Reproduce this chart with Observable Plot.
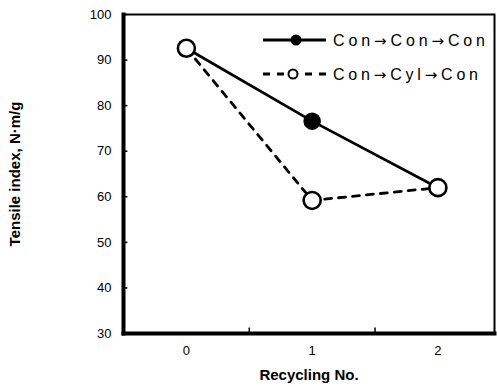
<!DOCTYPE html>
<html><head><meta charset="utf-8">
<script src="https://cdn.jsdelivr.net/npm/d3@7"></script>
<script src="https://cdn.jsdelivr.net/npm/@observablehq/plot@0.6"></script>
<style>
body{margin:0;background:#fff;}
#c{position:relative;width:497px;height:387px;font-family:"Liberation Sans",Arial,sans-serif;}
#c svg.leg{position:absolute;left:0;top:0;}
</style></head>
<body><div id="c"></div>
<script>
const recycling = [0, 1, 2];
const conConCon = [92.6, 76.6, 62.0];
const conCylCon = [92.6, 59.2, 62.0];
const seriesNames = ["Con→Con→Con", "Con→Cyl→Con"];
const yTicks = [30, 40, 50, 60, 70, 80, 90, 100];
const xTicks = [0, 1, 2];
const xMinorTicks = [0.5, 1.5];

const s1 = recycling.map((x, i) => ({x, y: conConCon[i]}));
const s2 = recycling.map((x, i) => ({x, y: conCylCon[i]}));
const xDom = [-0.5, 2.45], yDom = [30, 100];

const plot = Plot.plot({
  width: 497, height: 387,
  marginLeft: 123, marginRight: 3, marginTop: 14, marginBottom: 54,
  style: {fontFamily: "Liberation Sans, Arial, sans-serif", background: "#fff", color: "#000"},
  x: {domain: xDom, label: null},
  y: {domain: yDom, label: null},
  marks: [
    Plot.axisY({ticks: yTicks, tickSize: 0, tickPadding: 12, fontSize: 13, tickFormat: d => d, fill: "#000"}),
    Plot.axisX({ticks: xTicks, tickSize: 0, tickPadding: 12, fontSize: 13, tickFormat: d => d, fill: "#000"}),
    Plot.ruleY(yTicks, {x1: xDom[0], x2: xDom[0] + 0.035, stroke: "#000", strokeWidth: 1.5}),
    Plot.ruleX(xMinorTicks, {y1: yDom[0], y2: yDom[0] + 1.2, stroke: "#000", strokeWidth: 1.5}),
    Plot.frame({stroke: "#000", strokeWidth: 2, strokeOpacity: 1}),
    Plot.frame({anchor: "left", stroke: "#000", strokeWidth: 4, strokeOpacity: 1}),
    Plot.frame({anchor: "bottom", stroke: "#000", strokeWidth: 4, strokeOpacity: 1}),
    Plot.line(s1, {x: "x", y: "y", stroke: "#000", strokeWidth: 2.8}),
    Plot.line(s2, {x: "x", y: "y", stroke: "#000", strokeWidth: 2.8, strokeDasharray: "7,7"}),
    Plot.dot(s1, {x: "x", y: "y", r: 8, fill: "#000", stroke: "#000"}),
    Plot.dot(s2, {x: "x", y: "y", r: 8.5, fill: "#fff", stroke: "#000", strokeWidth: 2.6}),
    Plot.text(["Recycling No."], {frameAnchor: "bottom", dy: 46, text: d => d, fontSize: 15, fontWeight: "bold", fill: "#000"}),
    Plot.text(["Tensile index, N·m/g"], {frameAnchor: "left", dx: -108, rotate: -90, textAnchor: "middle", text: d => d, fontSize: 15, fontWeight: "bold", fill: "#000"})
  ]
});
const c = document.getElementById("c");
c.appendChild(plot);

// legend overlay
const ns = "http://www.w3.org/2000/svg";
const arrowed = s => s.split("→").join('<tspan font-family="DejaVu Sans" font-size="15">→</tspan>');
const leg = document.createElementNS(ns, "svg");
leg.setAttribute("class", "leg");
leg.setAttribute("width", 497); leg.setAttribute("height", 387);
leg.innerHTML = `
  <line x1="263" y1="40" x2="326" y2="40" stroke="#000" stroke-width="2.8"/>
  <circle cx="296" cy="40" r="5.5" fill="#000"/>
  <text x="333" y="46" font-size="16" font-family="Liberation Sans, Arial" textLength="152" lengthAdjust="spacing" fill="#000">${arrowed(seriesNames[0])}</text>
  <line x1="263" y1="74" x2="326" y2="74" stroke="#000" stroke-width="2.8" stroke-dasharray="7,7"/>
  <rect x="286" y="68" width="14" height="12" fill="#fff"/>
  <circle cx="293" cy="74" r="4.5" fill="#fff" stroke="#000" stroke-width="2"/>
  <text x="333" y="80" font-size="16" font-family="Liberation Sans, Arial" textLength="145" lengthAdjust="spacing" fill="#000">${arrowed(seriesNames[1])}</text>`;
c.appendChild(leg);
</script></body></html>
